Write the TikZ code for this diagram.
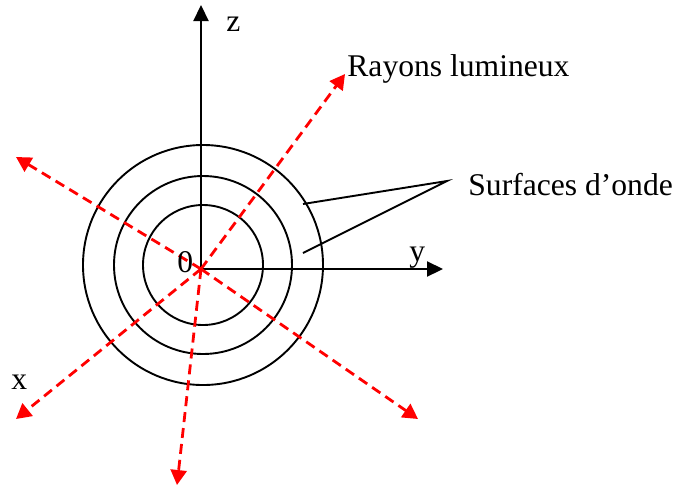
\documentclass[tikz,border=0pt]{standalone}
\usepackage{fontspec}
\setmainfont{Liberation Serif}
\usetikzlibrary{arrows.meta}

\begin{document}
\begin{tikzpicture}[x=0.5pt, y=-0.5pt,
    axis/.style={-{Triangle[length=8pt, width=7.5pt]}, line width=1.1pt},
    wave/.style={line width=0.95pt},
    ray/.style={red, dash pattern=on 5pt off 3pt, line width=1.4pt, -{Triangle[length=7.5pt, width=8pt]}},
    lbl/.style={inner sep=0pt, anchor=base west, font=\fontsize{15.8}{19}\selectfont}
]
\useasboundingbox (0,0) rectangle (675,488);

% origine et centre des surfaces d'onde
\coordinate (O) at (201,269);
\coordinate (C) at (203,265);

% surfaces d'onde
\draw[wave] (C) circle[radius=30pt];
\draw[wave] (C) circle[radius=44.5pt];
\draw[wave] (C) circle[radius=60pt];

% axes
\coordinate (zend) at (201,5);
\coordinate (yend) at (443,269);
\draw[axis] (O) -- (zend);
\draw[axis] (O) -- (yend);

% rayons lumineux
\coordinate (r1) at (345,74);
\coordinate (r2) at (16,157);
\coordinate (r3) at (16,419);
\coordinate (r4) at (177,485);
\coordinate (r5) at (418,419);
\foreach \r in {r1,r2,r3,r4,r5}
    \draw[ray] (O) -- (\r);

% labels
\node[lbl] (zlab) at (226,31) {z};
\node[lbl] (ylab) at (409,261) {y};
\node[lbl] (xlab) at (11,389) {x};
\node[lbl] (olab) at (177,272) {0};
\node[lbl] (rayons) at (347,76) {Rayons lumineux};
\node[lbl] (surf) at (468,195) {Surfaces d’onde};

% renvois
\coordinate (sA) at (447,181);
\coordinate (s1) at (303,204);
\coordinate (s2) at (303,253);
\draw[wave] (s1) -- (sA) -- (s2);
\end{tikzpicture}
\end{document}
